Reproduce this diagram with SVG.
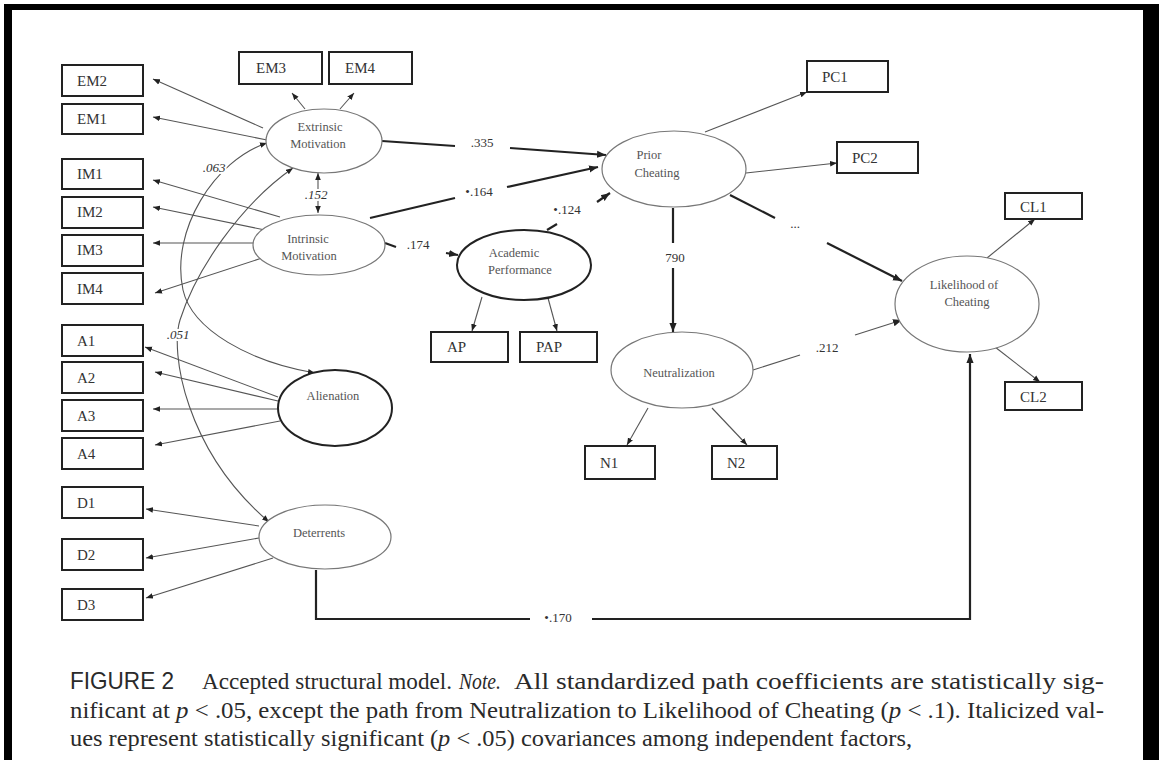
<svg xmlns="http://www.w3.org/2000/svg" width="1159" height="760" viewBox="0 0 1159 760">
<style>
.box{fill:#fff;stroke:#222;stroke-width:2}
.ell{fill:#fff;stroke:#777;stroke-width:1.2}
.ellb{fill:#fff;stroke:#222;stroke-width:2}
.bl{font-family:"Liberation Serif",serif;font-size:15px;fill:#333}
.el{font-family:"Liberation Serif",serif;font-size:12.5px;fill:#555;text-anchor:middle}
.pl{font-family:"Liberation Serif",serif;font-size:13px;fill:#333;text-anchor:middle}
.cv{font-family:"Liberation Serif",serif;font-size:13px;fill:#333;text-anchor:middle;font-style:italic;stroke:#fff;stroke-width:4px;paint-order:stroke}
.thin{fill:none;stroke:#555;stroke-width:1.1}
.thick{fill:none;stroke:#222;stroke-width:2.2}
.cap{font-family:"Liberation Serif",serif;font-size:24px;fill:#2a2a2a}
</style>
<defs>
<marker id="ah" viewBox="0 0 10 10" refX="10" refY="5" markerWidth="7" markerHeight="7" markerUnits="userSpaceOnUse" orient="auto-start-reverse"><path d="M0,1 L10,5 L0,9 z" fill="#222"/></marker>
<marker id="ahb" viewBox="0 0 10 10" refX="10" refY="5" markerWidth="9" markerHeight="9" markerUnits="userSpaceOnUse" orient="auto-start-reverse"><path d="M0,1 L10,5 L0,9 z" fill="#222"/></marker>
</defs>
<rect width="1159" height="760" fill="#fff"/>
<g id="frame" fill="#000">
<rect x="4" y="4" width="8" height="756"/>
<rect x="4" y="4" width="1155" height="6"/>
<rect x="1143" y="4" width="16" height="756"/>
</g>

<g id="connectors">
<line class="thin" x1="263" y1="128" x2="153" y2="79" marker-end="url(#ah)"/>
<line class="thin" x1="267" y1="140" x2="153" y2="117" marker-end="url(#ah)"/>
<line class="thin" x1="305" y1="109" x2="292" y2="93" marker-end="url(#ah)"/>
<line class="thin" x1="340" y1="109" x2="354" y2="93" marker-end="url(#ah)"/>
<line class="thin" x1="280" y1="217" x2="153" y2="180" marker-end="url(#ah)"/>
<line class="thin" x1="265" y1="230" x2="153" y2="207" marker-end="url(#ah)"/>
<line class="thin" x1="253" y1="243" x2="153" y2="243" marker-end="url(#ah)" stroke="#aaa"/>
<line class="thin" x1="262" y1="258" x2="155" y2="293" marker-end="url(#ah)"/>
<line class="thin" x1="278" y1="397" x2="145" y2="347" marker-end="url(#ah)"/>
<line class="thin" x1="278" y1="401" x2="155" y2="372" marker-end="url(#ah)"/>
<line class="thin" x1="278" y1="409" x2="153" y2="409" marker-end="url(#ah)"/>
<line class="thin" x1="280" y1="421" x2="155" y2="445" marker-end="url(#ah)"/>
<line class="thin" x1="259" y1="526" x2="146" y2="509" marker-end="url(#ah)"/>
<line class="thin" x1="259" y1="538" x2="146" y2="558" marker-end="url(#ah)"/>
<line class="thin" x1="273" y1="558" x2="146" y2="598" marker-end="url(#ah)"/>
<line class="thin" x1="482" y1="297" x2="472" y2="331" marker-end="url(#ah)"/>
<line class="thin" x1="548" y1="298" x2="557" y2="331" marker-end="url(#ah)"/>
<line class="thin" x1="705" y1="132" x2="807" y2="92" marker-end="url(#ah)"/>
<line class="thin" x1="746" y1="173" x2="837" y2="163" marker-end="url(#ah)"/>
<line class="thin" x1="648" y1="408" x2="627" y2="445" marker-end="url(#ah)"/>
<line class="thin" x1="712" y1="408" x2="747" y2="445" marker-end="url(#ah)"/>
<line class="thin" x1="987" y1="258" x2="1035" y2="219" marker-end="url(#ah)"/>
<line class="thin" x1="995" y1="347" x2="1040" y2="382" marker-end="url(#ah)"/>
<line class="thick" x1="382" y1="141" x2="455" y2="146"/>
<line class="thick" x1="510" y1="148" x2="606" y2="155" marker-end="url(#ahb)"/>
<line class="thick" x1="370" y1="218" x2="455" y2="198"/>
<line class="thick" x1="507" y1="187" x2="598" y2="167" marker-end="url(#ahb)"/>
<line class="thick" x1="547" y1="230" x2="557" y2="224"/>
<line class="thick" x1="597" y1="202" x2="610" y2="193" marker-end="url(#ahb)"/>
<line class="thick" x1="385" y1="243" x2="396" y2="247"/>
<line class="thick" x1="446" y1="253" x2="458" y2="255" marker-end="url(#ahb)"/>
<line class="thick" x1="673" y1="208" x2="673" y2="243"/>
<line class="thick" x1="673" y1="268" x2="673" y2="332" marker-end="url(#ahb)"/>
<line class="thick" x1="730" y1="195" x2="775" y2="218"/>
<line class="thick" x1="827" y1="243" x2="902" y2="281" marker-end="url(#ahb)"/>
<line class="thin" x1="753" y1="370" x2="800" y2="355" stroke-width="1.5"/>
<line class="thin" x1="855" y1="335" x2="902" y2="320" stroke-width="1.5" marker-end="url(#ahb)"/>
<path class="thick" d="M316,570 V619 H530"/>
<path class="thick" d="M592,619 H970 V354" marker-end="url(#ahb)"/>
<line class="thin" x1="318" y1="173" x2="318" y2="213" marker-start="url(#ah)" marker-end="url(#ah)"/>
<path class="thin" d="M267,143 C215,160 170,230 183,290 C192,330 250,362 315,373" marker-start="url(#ah)" marker-end="url(#ah)"/>
<path class="thin" d="M293,168 C240,205 196,270 180,320 C170,352 185,450 269,522" marker-start="url(#ah)" marker-end="url(#ah)"/>
</g>

<g id="labels">
<text class="pl" x="482" y="147">.335</text>
<text class="pl" x="479" y="196">•.164</text>
<text class="pl" x="567" y="214">•.124</text>
<text class="pl" x="418" y="249">.174</text>
<text class="pl" x="675" y="262">790</text>
<text class="pl" x="827" y="352">.212</text>
<text class="pl" x="558" y="622" font-size="11">•.170</text>
<text class="pl" x="795" y="228" font-size="6" fill="#888">...</text>
<text class="cv" x="214" y="172">.063</text>
<text class="cv" x="316" y="199">.152</text>
<text class="cv" x="178" y="339">.051</text>
</g>

<g id="EM2"><rect class="box" x="62" y="65" width="81" height="31"/><text class="bl" x="77" y="86">EM2</text></g>
<g id="EM1"><rect class="box" x="62" y="104" width="81" height="30"/><text class="bl" x="77" y="124">EM1</text></g>
<g id="EM3"><rect class="box" x="239" y="52" width="83" height="32"/><text class="bl" x="256" y="73">EM3</text></g>
<g id="EM4"><rect class="box" x="329" y="52" width="83" height="32"/><text class="bl" x="345" y="73">EM4</text></g>
<g id="IM1"><rect class="box" x="62" y="159" width="81" height="30"/><text class="bl" x="77" y="179">IM1</text></g>
<g id="IM2"><rect class="box" x="62" y="197" width="81" height="31"/><text class="bl" x="77" y="217">IM2</text></g>
<g id="IM3"><rect class="box" x="62" y="235" width="81" height="31"/><text class="bl" x="77" y="255">IM3</text></g>
<g id="IM4"><rect class="box" x="62" y="273" width="81" height="31"/><text class="bl" x="77" y="294">IM4</text></g>
<g id="A1"><rect class="box" x="62" y="325" width="81" height="31"/><text class="bl" x="77" y="346">A1</text></g>
<g id="A2"><rect class="box" x="62" y="362" width="81" height="31"/><text class="bl" x="77" y="383">A2</text></g>
<g id="A3"><rect class="box" x="62" y="400" width="81" height="31"/><text class="bl" x="77" y="421">A3</text></g>
<g id="A4"><rect class="box" x="62" y="438" width="81" height="31"/><text class="bl" x="77" y="459">A4</text></g>
<g id="D1"><rect class="box" x="62" y="487" width="81" height="31"/><text class="bl" x="77" y="508">D1</text></g>
<g id="D2"><rect class="box" x="62" y="539" width="81" height="31"/><text class="bl" x="77" y="560">D2</text></g>
<g id="D3"><rect class="box" x="62" y="589" width="81" height="31"/><text class="bl" x="77" y="610">D3</text></g>
<g id="PC1"><rect class="box" x="807" y="61" width="81" height="31"/><text class="bl" x="822" y="82">PC1</text></g>
<g id="PC2"><rect class="box" x="837" y="142" width="81" height="31"/><text class="bl" x="852" y="163">PC2</text></g>
<g id="CL1"><rect class="box" x="1005" y="193" width="77" height="26"/><text class="bl" x="1020" y="212">CL1</text></g>
<g id="CL2"><rect class="box" x="1005" y="382" width="77" height="28"/><text class="bl" x="1020" y="402">CL2</text></g>
<g id="AP"><rect class="box" x="431" y="332" width="77" height="30"/><text class="bl" x="447" y="352">AP</text></g>
<g id="PAP"><rect class="box" x="520" y="332" width="77" height="30"/><text class="bl" x="536" y="352">PAP</text></g>
<g id="N1"><rect class="box" x="585" y="446" width="70" height="33"/><text class="bl" x="600" y="468">N1</text></g>
<g id="N2"><rect class="box" x="712" y="446" width="65" height="33"/><text class="bl" x="727" y="468">N2</text></g>

<g id="ExtrinsicMotivation"><ellipse class="ell" cx="324" cy="141" rx="58" ry="32"/><text class="el" x="320" y="131">Extrinsic</text><text class="el" x="318" y="148">Motivation</text></g>
<g id="IntrinsicMotivation"><ellipse class="ell" cx="319" cy="245" rx="66" ry="30"/><text class="el" x="308" y="243">Intrinsic</text><text class="el" x="309" y="260">Motivation</text></g>
<g id="Alienation"><ellipse class="ellb" cx="335" cy="408" rx="57" ry="38"/><text class="el" x="333" y="400">Alienation</text></g>
<g id="Deterrents"><ellipse class="ell" cx="325" cy="537" rx="66" ry="32"/><text class="el" x="319" y="537">Deterrents</text></g>
<g id="AcademicPerformance"><ellipse class="ellb" cx="524" cy="265" rx="67" ry="35"/><text class="el" x="514" y="257">Academic</text><text class="el" x="520" y="274">Performance</text></g>
<g id="PriorCheating"><ellipse class="ell" cx="674" cy="169" rx="72" ry="38"/><text class="el" x="649" y="159">Prior</text><text class="el" x="657" y="177">Cheating</text></g>
<g id="Neutralization"><ellipse class="ell" cx="682" cy="370" rx="71" ry="38"/><text class="el" x="679" y="377">Neutralization</text></g>
<g id="LikelihoodOfCheating"><ellipse class="ell" cx="967" cy="304" rx="72" ry="48"/><text class="el" x="964" y="289">Likelihood of</text><text class="el" x="967" y="306">Cheating</text></g>

<g id="caption">
<text x="70" y="689" font-family="'Liberation Sans',Arial,sans-serif" font-size="24" fill="#2a2a2a" textLength="104" lengthAdjust="spacingAndGlyphs">FIGURE 2</text>
<text class="cap" x="202" y="689" textLength="250" lengthAdjust="spacingAndGlyphs">Accepted structural model.</text>
<text class="cap" x="459" y="689" font-style="italic" textLength="42" lengthAdjust="spacingAndGlyphs">Note.</text>
<text class="cap" x="514" y="689" textLength="590" lengthAdjust="spacingAndGlyphs">All standardized path coefficients are statistically sig-</text>
<text class="cap" x="70" y="718" textLength="1034" lengthAdjust="spacingAndGlyphs">nificant at <tspan font-style="italic">p</tspan> &lt; .05, except the path from Neutralization to Likelihood of Cheating (<tspan font-style="italic">p</tspan> &lt; .1). Italicized val-</text>
<text class="cap" x="70" y="746" textLength="842" lengthAdjust="spacingAndGlyphs">ues represent statistically significant (<tspan font-style="italic">p</tspan> &lt; .05) covariances among independent factors,</text>
</g>
</svg>
